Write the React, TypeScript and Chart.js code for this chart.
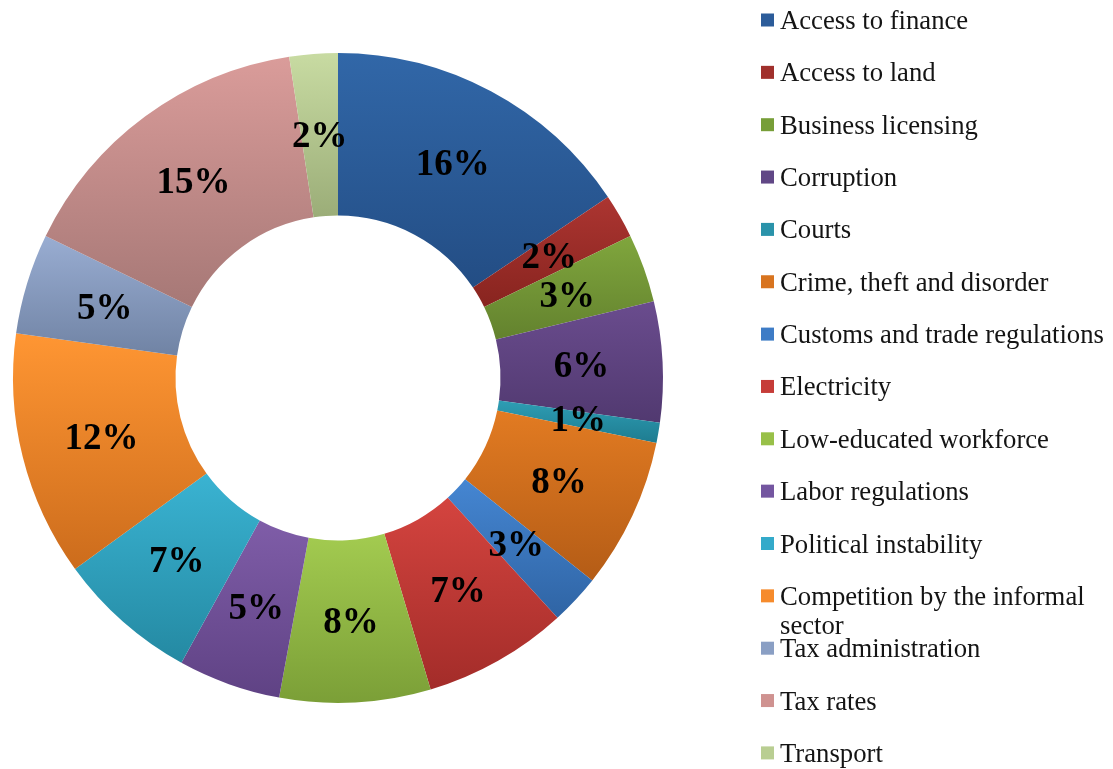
import React, { useEffect, useRef } from "react";
import { Chart, registerables } from "chart.js";

Chart.register(...registerables);

const categories = [
  "Access to finance",
  "Access to land",
  "Business licensing",
  "Corruption",
  "Courts",
  "Crime, theft and disorder",
  "Customs and trade regulations",
  "Electricity",
  "Low-educated workforce",
  "Labor regulations",
  "Political instability",
  "Competition by the informal sector",
  "Tax administration",
  "Tax rates",
  "Transport",
];

const shares = [15.6, 2.2, 3.4, 6.0, 1.0, 7.5, 2.5, 7.2, 7.5, 5.1, 7.0, 12.2, 5.0, 15.4, 2.4];

const topColors = [
  "#3167A8", "#AC3531", "#80A63D", "#6A4C8E", "#2E9DB4", "#E27B22", "#4586D2", "#D4443F",
  "#A3CB50", "#7F5DA8", "#3AB3D2", "#FF9633", "#99ADD2", "#DA9C9A", "#C8DBA2",
];
const bottomColors = [
  "#234D84", "#88241F", "#63822E", "#513970", "#1E7C90", "#B45C16", "#2F64A4", "#A32C29",
  "#7B9F37", "#5F4284", "#2489A2", "#CC6C1C", "#7083A4", "#A67876", "#9BAD78",
];
const legendColors = [
  "#2C5C9A", "#A0302C", "#779E38", "#614786", "#2A93AA", "#D8741F", "#3E7CC6", "#C63C38",
  "#98C048", "#7456A0", "#34AACA", "#F68B2C", "#8A9FC4", "#CF9290", "#B9CE92",
];

const LABEL_FONT = 'bold 37px "Liberation Serif", "Times New Roman", serif';
const LEGEND_FONT = '26.7px "Liberation Serif", "Times New Roman", serif';

function sliceGradient(chart: any, index: number) {
  const area = chart.chartArea;
  if (!area) return legendColors[index];
  const cx = (area.left + area.right) / 2;
  const cy = (area.top + area.bottom) / 2;
  const R = Math.min(area.right - area.left, area.bottom - area.top) / 2;
  const r = R * 0.5;
  const total = shares.reduce((a, b) => a + b, 0);
  let cum = 0;
  for (let i = 0; i < index; i++) cum += shares[i];
  const a0 = -Math.PI / 2 + (cum / total) * Math.PI * 2;
  const a1 = a0 + (shares[index] / total) * Math.PI * 2;
  let ymin = Infinity;
  let ymax = -Infinity;
  for (let k = 0; k <= 60; k++) {
    const a = a0 + ((a1 - a0) * k) / 60;
    for (const rr of [r, R]) {
      const y = cy + rr * Math.sin(a);
      if (y < ymin) ymin = y;
      if (y > ymax) ymax = y;
    }
  }
  if (!(ymax > ymin)) ymax = ymin + 1;
  const g = chart.ctx.createLinearGradient(0, ymin, 0, ymax);
  g.addColorStop(0, topColors[index]);
  g.addColorStop(1, bottomColors[index]);
  return g;
}

const labelPlugin = {
  id: "sliceLabels",
  afterDatasetsDraw(chart: any) {
    const ctx = chart.ctx;
    const meta = chart.getDatasetMeta(0);
    ctx.save();
    ctx.font = LABEL_FONT;
    ctx.fillStyle = "#000000";
    ctx.textAlign = "center";
    ctx.textBaseline = "middle";
    meta.data.forEach((arc: any, i: number) => {
      const p = arc.getProps(["x", "y", "startAngle", "endAngle", "innerRadius", "outerRadius"], true);
      const mid = (p.startAngle + p.endAngle) / 2;
      const rad = (p.innerRadius + p.outerRadius) / 2;
      const x = p.x + Math.cos(mid) * rad;
      const y = p.y + Math.sin(mid) * rad;
      ctx.fillText(Math.round(shares[i]) + "%", x, y + 2);
    });
    ctx.restore();
  },
};

const legendPlugin = {
  id: "sideLegend",
  afterDraw(chart: any) {
    const ctx = chart.ctx;
    ctx.save();
    ctx.font = LEGEND_FONT;
    ctx.textAlign = "left";
    ctx.textBaseline = "alphabetic";
    const maxW = 330;
    categories.forEach((label, i) => {
      const cy = 20 + 52.35 * i;
      ctx.fillStyle = legendColors[i];
      ctx.fillRect(761, cy - 6.5, 13, 13);
      ctx.fillStyle = "#141414";
      const words = label.split(" ");
      const lines: string[] = [];
      let cur = "";
      for (const w of words) {
        const test = cur ? cur + " " + w : w;
        if (ctx.measureText(test).width > maxW && cur) {
          lines.push(cur);
          cur = w;
        } else cur = test;
      }
      if (cur) lines.push(cur);
      lines.forEach((ln, k) => ctx.fillText(ln, 780, cy + 9 + k * 29));
    });
    ctx.restore();
  },
};

export default function App() {
  const ref = useRef<HTMLCanvasElement | null>(null);
  useEffect(() => {
    if (!ref.current) return;
    const chart = new Chart(ref.current, {
      type: "doughnut",
      data: {
        labels: categories,
        datasets: [
          {
            data: shares,
            backgroundColor: (c: any) => sliceGradient(c.chart, c.dataIndex),
            borderWidth: 0,
          },
        ],
      },
      options: {
        responsive: true,
        maintainAspectRatio: false,
        animation: false,
        cutout: "50%",
        layout: { padding: { left: 13, top: 53, right: 450, bottom: 66 } },
        plugins: {
          legend: { display: false },
          tooltip: { enabled: false },
        },
      },
      plugins: [labelPlugin, legendPlugin],
    });
    return () => chart.destroy();
  }, []);
  return (
    <div style={{ position: "fixed", left: 0, top: 0, width: 1113, height: 769, background: "#fff" }}>
      <canvas ref={ref} />
    </div>
  );
}
